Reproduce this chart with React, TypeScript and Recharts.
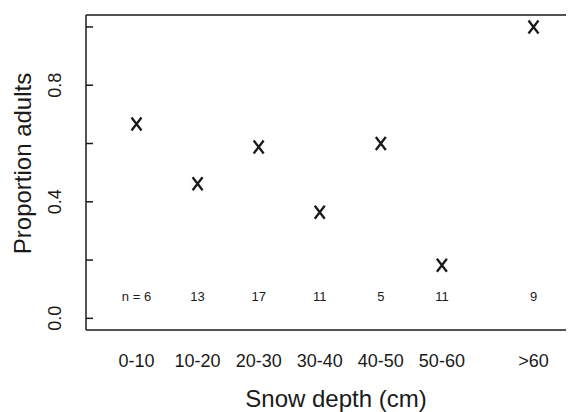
import { ScatterChart, Scatter, XAxis, YAxis, ReferenceLine } from 'recharts'

const categories = ['0-10', '10-20', '20-30', '30-40', '40-50', '50-60', '>60']
const xPositions = [5, 15, 25, 35, 45, 55, 70]
const proportions = [0.667, 0.462, 0.588, 0.364, 0.6, 0.182, 1.0]
const nLabels = ['n = 6', '13', '17', '11', '5', '11', '9']
const yTicks = [0, 0.2, 0.4, 0.6, 0.8, 1.0]
const yTickLabels: Record<string, string> = { '0': '0.0', '0.4': '0.4', '0.8': '0.8' }

const N_LABEL_Y = 0.075
const X_MIN = -3.27, X_MAX = 75.32
const Y_MIN = -0.04, Y_MAX = 1.041
const FONT = '"Liberation Sans", Arial, Helvetica, sans-serif'
const INK = '#1a1a1a'

const points = xPositions.map((x, i) => ({ x, y: proportions[i], cat: categories[i] }))
const nPoints = xPositions.map((x, i) => ({ x, y: N_LABEL_Y, label: nLabels[i] }))

// R style "x" plotting character
const XMark = (p: any) => {
  const { cx, cy } = p
  if (cx == null || cy == null) return <g />
  const w = 5, h = 6.5
  return (
    <path d={`M${cx - w},${cy - h}L${cx + w},${cy + h}M${cx + w},${cy - h}L${cx - w},${cy + h}`}
      stroke={INK} strokeWidth={2.3} fill="none" />
  )
}

const NText = (p: any) => {
  const { cx, cy, payload } = p
  if (cx == null || cy == null) return <g />
  return (
    <text x={cx} y={cy} textAnchor="middle" dominantBaseline="central"
      fontFamily={FONT} fontSize={13} fill={INK}>{payload.label}</text>
  )
}

const XTick = (p: any) => {
  const { x, y, payload } = p
  const label = categories[xPositions.indexOf(payload.value)] ?? ''
  return (
    <text x={x} y={y + 37} textAnchor="middle" fontFamily={FONT} fontSize={18} fill={INK}>{label}</text>
  )
}

const YTick = (p: any) => {
  const { x, y, payload } = p
  const label = yTickLabels[String(payload.value)]
  return (
    <g>
      <line x1={x} y1={y} x2={x + 7} y2={y} stroke={INK} strokeWidth={1.5} />
      {label && (
        <text x={x - 31} y={y} transform={`rotate(-90 ${x - 31} ${y})`} textAnchor="middle"
          dominantBaseline="central" fontFamily={FONT} fontSize={18} fill={INK}>{label}</text>
      )}
    </g>
  )
}

export default function App() {
  return (
    <ScatterChart width={566} height={404} margin={{ top: 7, right: 8, bottom: 0, left: 0 }}>
      <XAxis type="number" dataKey="x" domain={[X_MIN, X_MAX]} ticks={xPositions} allowDataOverflow
        height={82} tickSize={0} tickMargin={0} tickLine={false} tick={<XTick />}
        axisLine={{ stroke: INK, strokeWidth: 1.5 }}
        label={{
          content: (lp: any) => {
            const vb = lp.viewBox
            return (
              <text x={vb.x + vb.width / 2 + 10} y={vb.y + 77} textAnchor="middle"
                fontFamily={FONT} fontSize={24} fill={INK}>Snow depth (cm)</text>
            )
          }
        }} />
      <YAxis type="number" dataKey="y" domain={[Y_MIN, Y_MAX]} ticks={yTicks} allowDataOverflow
        width={78} tickSize={0} tickMargin={0} tickLine={false} tick={<YTick />}
        axisLine={{ stroke: INK, strokeWidth: 1.5 }}
        label={{
          content: (lp: any) => {
            const vb = lp.viewBox
            const cy = vb.y + vb.height / 2 - 9
            return (
              <text x={14} y={cy} transform={`rotate(-90 14 ${cy})`} textAnchor="middle"
                dominantBaseline="central" fontFamily={FONT} fontSize={24} fill={INK}>Proportion adults</text>
            )
          }
        }} />
      <ReferenceLine y={Y_MAX} stroke={INK} strokeWidth={1.5} />
      <Scatter data={points} shape={XMark} isAnimationActive={false} />
      <Scatter data={nPoints} shape={NText} isAnimationActive={false} />
    </ScatterChart>
  )
}
